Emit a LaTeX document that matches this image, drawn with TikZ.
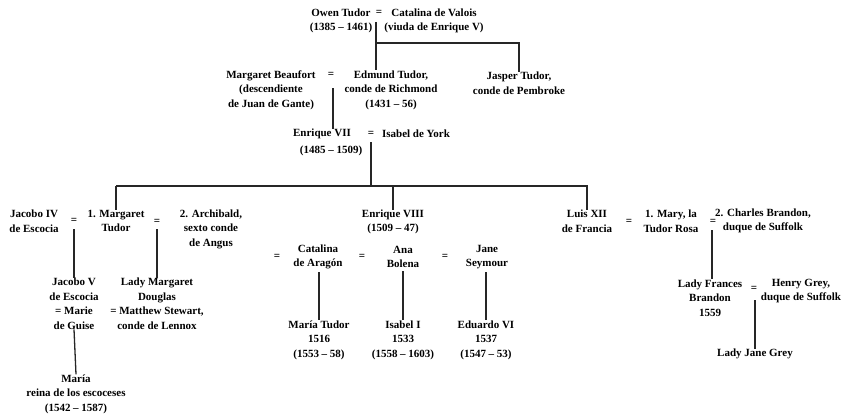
\documentclass[tikz,border=0pt]{standalone}
\usepackage{fontspec}
\setmainfont{Liberation Serif}
\begin{document}
\begin{tikzpicture}[x=1pt,y=-1pt,
  person/.style={inner sep=0pt, align=center, font=\fontsize{11}{14.5}\selectfont\bfseries},
  eqs/.style={inner sep=0pt, font=\fontsize{11}{14.5}\selectfont\bfseries},
  link/.style={line width=1.3pt, draw=black!85}]
\useasboundingbox (0,0) rectangle (846,420);
% generation 1
\node[person] (owen) at (341,21) {Owen Tudor\\(1385 – 1461)};
\node[eqs] (eq1) at (379,13) {=};
\node[person] (catalina) at (434,21) {Catalina de Valois\\(viuda de Enrique V)};
% generation 2
\node[person] (beaufort) at (271,90) {Margaret Beaufort\\(descendiente\\de Juan de Gante)};
\node[eqs] (eq2) at (331,75) {=};
\node[person] (edmund) at (391,90) {Edmund Tudor,\\conde de Richmond\\(1431 – 56)};
\node[person] (jasper) at (519,83) {Jasper Tudor,\\conde de Pembroke};
% generation 3
\node[person] (e7) at (322,134) {Enrique VII};
\node[person] (e7d) at (331,151) {(1485 – 1509)};
\node[eqs] (eq3) at (371,134) {=};
\node[person] (isabel) at (416,134) {Isabel de York};
% generation 4
\node[person] (jacobo4) at (34,221) {Jacobo IV\\de Escocia};
\node[eqs] (eq4) at (74,221) {=};
\node[person] (margaret) at (116,221) {1. Margaret\\Tudor};
\node[eqs] (eq5) at (157,222) {=};
\node[person] (archibald) at (211,229) {2. Archibald,\\sexto conde\\de Angus};
\node[person] (e8) at (393,222) {Enrique VIII\\(1509 – 47)};
\node[person] (luis) at (587,221) {Luis XII\\de Francia};
\node[eqs] (eq9) at (629,222) {=};
\node[person] (mary) at (671,221) {1. Mary, la\\Tudor Rosa};
\node[eqs] (eq10) at (713,222) {=};
\node[person] (charles) at (763,221) {2. Charles Brandon,\\duque de Suffolk};
% wives of Enrique VIII
\node[eqs] (eq6) at (277,257) {=};
\node[person] (aragon) at (318,257) {Catalina\\de Aragón};
\node[eqs] (eq7) at (362,257) {=};
\node[person] (ana) at (403,257) {Ana\\Bolena};
\node[eqs] (eq8) at (445,257) {=};
\node[person] (jane) at (487,257) {Jane\\Seymour};
% generation 5
\node[person] (jacobo5) at (74,303.5) {Jacobo V\\de Escocia\\= Marie\\de Guise};
\node[person] (ladym) at (157,303.5) {Lady Margaret\\Douglas\\= Matthew Stewart,\\conde de Lennox};
\node[person] (mtudor) at (319,340) {María Tudor\\1516\\(1553 – 58)};
\node[person] (isabel1) at (403,340) {Isabel I\\1533\\(1558 – 1603)};
\node[person] (eduardo) at (486,340) {Eduardo VI\\1537\\(1547 – 53)};
\node[person] (frances) at (710,298) {Lady Frances\\Brandon\\1559};
\node[eqs] (eq11) at (754,289) {=};
\node[person] (henry) at (801,291) {Henry Grey,\\duque de Suffolk};
% generation 6
\node[person] (mariaesc) at (76,394) {María\\reina de los escoceses\\(1542 – 1587)};
\node[person] (janegrey) at (755,354) {Lady Jane Grey};
% connectors
\coordinate (t1) at (376,22);
\coordinate (f1) at (376,43);
\draw[link] (t1) -- (t1 |- edmund.north);
\draw[link] (f1) -| (jasper.north);
\coordinate (t2) at (333,88);
\draw[link] (t2) -- (t2 |- e7.north);
\coordinate (t3) at (371,142);
\coordinate (f3) at (371,186);
\draw[link] (t3) -- (f3);
\draw[link] (margaret.north |- f3) -- (margaret.north) ;
\draw[link] (margaret.north |- f3) -- (luis.north |- f3) -- (luis.north);
\draw[link] (e8.north |- f3) -- (e8.north);
\coordinate (t4) at (74,229);
\draw[link] (t4) -- (t4 |- jacobo5.north);
\coordinate (t5) at (157,229);
\draw[link] (t5) -- (t5 |- ladym.north);
\draw[link] (jacobo5.south) -- (mariaesc.north);
\draw[link] ([yshift=-3pt]aragon.south -| mtudor.north) -- (mtudor.north);
\draw[link] ([yshift=-3pt]ana.south -| isabel1.north) -- (isabel1.north);
\draw[link] ([yshift=-3pt]jane.south -| eduardo.north) -- (eduardo.north);
\coordinate (t10) at (712,230);
\draw[link] (t10) -- (t10 |- frances.north);
\coordinate (t11) at (755,300);
\draw[link] (t11) -- (janegrey.north);
\end{tikzpicture}
\end{document}
